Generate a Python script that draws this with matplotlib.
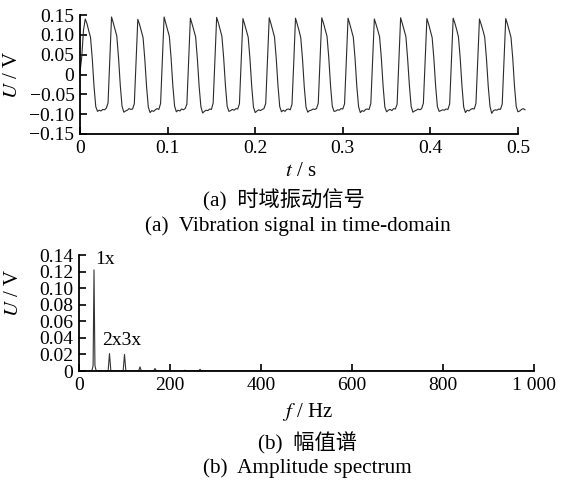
import numpy as np
import matplotlib.pyplot as plt

plt.rcParams["font.family"] = ["Liberation Serif", "Noto Sans CJK SC"]
plt.rcParams["mathtext.fontset"] = "stix"
plt.rcParams["axes.unicode_minus"] = True

# ------------------------------------------------------------
# Datos
# ------------------------------------------------------------
# (a) señal temporal, muestreo 0.002 s, una fila = un ciclo de 0.03 s
dt = 0.002
u_signal = [
    0.005, 0.045, 0.112, 0.140, 0.128, 0.110, 0.094, 0.040, -0.030, -0.081, -0.093, -0.090, -0.092, -0.088, -0.089,
    -0.085, -0.072, 0.035, 0.145, 0.130, 0.114, 0.097, 0.042, -0.028, -0.080, -0.095, -0.092, -0.090, -0.086, -0.088,
    -0.087, -0.074, 0.030, 0.139, 0.126, 0.109, 0.093, 0.038, -0.031, -0.082, -0.096, -0.091, -0.093, -0.089, -0.086,
    -0.088, -0.073, 0.033, 0.145, 0.129, 0.112, 0.096, 0.041, -0.029, -0.080, -0.094, -0.090, -0.092, -0.087, -0.089,
    -0.086, -0.075, 0.031, 0.142, 0.127, 0.111, 0.095, 0.039, -0.030, -0.081, -0.097, -0.093, -0.090, -0.091, -0.087,
    -0.088, -0.072, 0.034, 0.144, 0.130, 0.113, 0.096, 0.042, -0.027, -0.080, -0.093, -0.091, -0.088, -0.090, -0.086,
    -0.087, -0.074, 0.032, 0.141, 0.126, 0.110, 0.094, 0.040, -0.029, -0.082, -0.096, -0.092, -0.089, -0.091, -0.088,
    -0.086, -0.073, 0.033, 0.143, 0.128, 0.112, 0.095, 0.041, -0.028, -0.081, -0.094, -0.090, -0.093, -0.088, -0.087,
    -0.089, -0.075, 0.030, 0.142, 0.127, 0.111, 0.093, 0.039, -0.031, -0.082, -0.095, -0.091, -0.090, -0.087, -0.088,
    -0.086, -0.072, 0.034, 0.143, 0.129, 0.113, 0.096, 0.042, -0.028, -0.080, -0.093, -0.092, -0.089, -0.090, -0.086,
    -0.087, -0.074, 0.031, 0.142, 0.127, 0.110, 0.094, 0.040, -0.030, -0.081, -0.096, -0.091, -0.093, -0.088, -0.087,
    -0.088, -0.073, 0.033, 0.140, 0.126, 0.111, 0.095, 0.041, -0.029, -0.082, -0.094, -0.090, -0.088, -0.091, -0.086,
    -0.087, -0.075, 0.032, 0.143, 0.128, 0.112, 0.096, 0.040, -0.027, -0.080, -0.095, -0.092, -0.090, -0.087, -0.089,
    -0.086, -0.072, 0.034, 0.141, 0.127, 0.110, 0.093, 0.039, -0.030, -0.081, -0.093, -0.091, -0.089, -0.090, -0.087,
    -0.088, -0.074, 0.031, 0.142, 0.129, 0.113, 0.095, 0.042, -0.028, -0.082, -0.096, -0.090, -0.092, -0.088, -0.086,
    -0.087, -0.073, 0.033, 0.140, 0.126, 0.111, 0.094, 0.040, -0.029, -0.080, -0.098, -0.091, -0.089, -0.090, -0.087,
    -0.088, -0.074, 0.032, 0.141, 0.127, 0.110, 0.094, 0.041, -0.030, -0.081, -0.094, -0.092, -0.088, -0.086, -0.089,
]
t_signal = np.arange(len(u_signal)) * dt

t_ticks = [0, 0.1, 0.2, 0.3, 0.4, 0.5]
t_labels = ["0", "0.1", "0.2", "0.3", "0.4", "0.5"]
u_ticks = [-0.15, -0.10, -0.05, 0, 0.05, 0.10, 0.15]
u_labels = ["\u22120.15", "\u22120.10", "\u22120.05", "0", "0.05", "0.10", "0.15"]

# (b) espectro de amplitud
spec_f = [0, 28, 30, 31, 33, 35, 36, 38, 64, 67, 70, 97, 100, 103,
          131, 134, 137, 164, 167, 170, 230, 233, 236, 263, 266, 269, 1000]
spec_u = [0, 0, 0.004, 0.007, 0.122, 0.007, 0.004, 0, 0, 0.021, 0, 0, 0.020, 0,
          0, 0.005, 0, 0, 0.003, 0, 0, 0.001, 0, 0, 0.002, 0, 0]

f_ticks = [0, 200, 400, 600, 800, 1000]
f_labels = ["0", "200", "400", "600", "800", "1 000"]
a_ticks = [0, 0.02, 0.04, 0.06, 0.08, 0.10, 0.12, 0.14]
a_labels = ["0", "0.02", "0.04", "0.06", "0.08", "0.10", "0.12", "0.14"]

# ------------------------------------------------------------
# Figura
# ------------------------------------------------------------
W, H = 562, 487
fig = plt.figure(figsize=(W / 100, H / 100), dpi=100)
FS = 14      # marcas de los ejes
FS_LAB = 15  # títulos de los ejes
FS_CAP = 15.3  # pies de figura


def px_axes(l, t, r, b):
    return fig.add_axes([l / W, 1 - b / H, (r - l) / W, (b - t) / H])


def style(ax):
    for s in ("top", "right"):
        ax.spines[s].set_visible(False)
    for s in ("left", "bottom"):
        ax.spines[s].set_linewidth(1.3)
    ax.tick_params(direction="in", length=5, width=1.2, labelsize=FS)
    ax.tick_params(axis="x", pad=4)
    ax.tick_params(axis="y", pad=4)


# (a) señal temporal
ax1 = px_axes(80, 15, 518, 134)
ax1.plot(t_signal, u_signal, color="#2a2a2a", lw=0.8, clip_on=False)
ax1.set_xlim(0, 0.5)
ax1.set_ylim(-0.15, 0.15)
ax1.set_xticks(t_ticks, t_labels)
ax1.set_yticks(u_ticks, u_labels)
style(ax1)

# (b) espectro
ax2 = px_axes(79, 255, 534, 371)
ax2.plot(spec_f, spec_u, color="#333333", lw=0.8)
ax2.set_xlim(0, 1000)
ax2.set_ylim(0, 0.14)
ax2.set_xticks(f_ticks, f_labels)
ax2.set_yticks(a_ticks, a_labels)
style(ax2)
ax2.text(35, 0.134, "1x", fontsize=FS, va="center", ha="left")
ax2.text(50, 0.037, "2x3x", fontsize=FS, va="center", ha="left")


def ftext(x, y, s, size, **kw):
    fig.text(x / W, 1 - y / H, s, fontsize=size, ha="center", va="center", **kw)


ftext(13, 75, r"$U$ / V", FS_LAB, rotation=90)
ftext(14, 293, r"$U$ / V", FS_LAB, rotation=90)
ftext(301, 172, r"$t$ / s", FS_LAB)
ftext(307, 412, r"$f$ / Hz", FS_LAB)
ftext(284, 200, "(a)  时域振动信号", FS_CAP)
ftext(298, 226, "(a)  Vibration signal in time-domain", FS_CAP)
ftext(307, 443, "(b)  幅值谱", FS_CAP)
ftext(307, 468, "(b)  Amplitude spectrum", FS_CAP)

fig.savefig("out.png", dpi=100)
